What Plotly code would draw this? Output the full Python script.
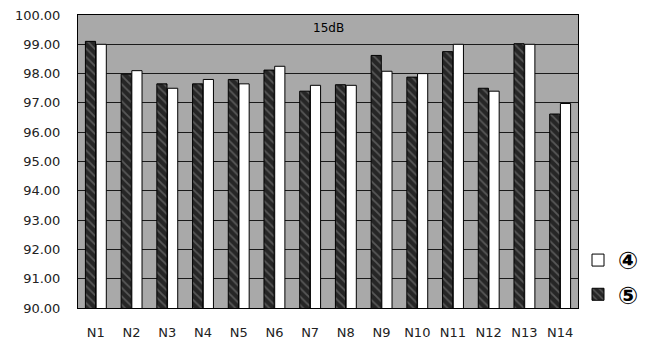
import plotly.graph_objects as go

categories = ["N1", "N2", "N3", "N4", "N5", "N6", "N7", "N8", "N9", "N10", "N11", "N12", "N13", "N14"]
series5 = [99.10, 97.98, 97.65, 97.65, 97.80, 98.12, 97.40, 97.62, 98.62, 97.88, 98.75, 97.50, 99.02, 96.62]
series4 = [99.00, 98.10, 97.50, 97.80, 97.65, 98.25, 97.60, 97.60, 98.08, 98.00, 99.00, 97.40, 99.00, 96.98]
name4 = "④"
name5 = "⑤"
title_text = "15dB"
y_ticks = [90, 91, 92, 93, 94, 95, 96, 97, 98, 99, 100]

FONT = "DejaVu Sans"

fig = go.Figure()
fig.add_trace(go.Bar(
    x=categories, y=series5, name=name5,
    marker=dict(color="#2a2a2a", line=dict(color="#000000", width=1),
                pattern=dict(shape="\\", bgcolor="#262626", fgcolor="#8a8a8a",
                             size=6, solidity=0.3)),
))
fig.add_trace(go.Bar(
    x=categories, y=series4, name=name4,
    marker=dict(color="#ffffff", line=dict(color="#000000", width=1)),
))

fig.add_annotation(text=title_text, xref="paper", yref="y", x=0.5, y=99.55,
                   showarrow=False, font=dict(family=FONT, size=12, color="#000000"))

fig.update_layout(
    width=656, height=343,
    margin=dict(l=78, r=78, t=15, b=35),
    paper_bgcolor="#ffffff",
    plot_bgcolor="#a9a9a9",
    barmode="group",
    bargap=0.4,
    bargroupgap=0.05,
    font=dict(family=FONT, size=13, color="#222222"),
    showlegend=True,
    legend=dict(x=1.0, xanchor="left", y=0.239, yanchor="top",
                traceorder="reversed",
                font=dict(family=FONT, size=24, color="#000000", weight="bold"),
                bgcolor="rgba(0,0,0,0)", itemwidth=30),
)
fig.update_xaxes(showgrid=False, showline=True, linecolor="#000000", linewidth=1,
                 mirror=True, ticks="", ticklabelstandoff=12, automargin=False,
                 tickfont=dict(family=FONT, size=13, color="#222222"))
fig.update_yaxes(range=[90, 100], tickvals=y_ticks,
                 ticktext=[f"{v:.2f}" for v in y_ticks],
                 showgrid=True, gridcolor="#1a1a1a", gridwidth=1,
                 zeroline=False, showline=True, linecolor="#000000", linewidth=1,
                 mirror=True, ticks="", ticklabelstandoff=14, automargin=False,
                 tickfont=dict(family=FONT, size=13, color="#222222"))

fig.write_html("out.html")
